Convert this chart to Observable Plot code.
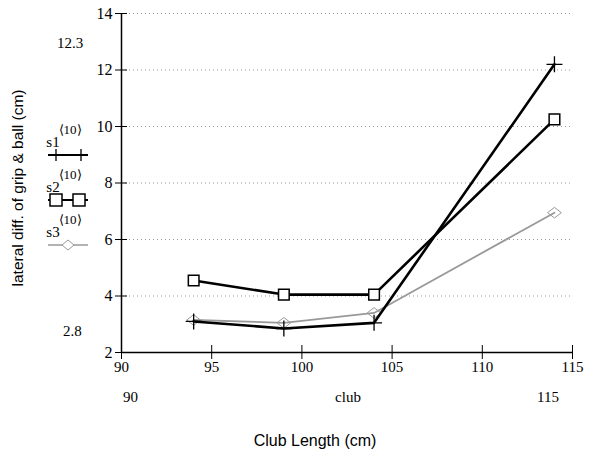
<!DOCTYPE html>
<html><head><meta charset="utf-8">
<script src="https://cdn.jsdelivr.net/npm/d3@7"></script>
<script src="https://cdn.jsdelivr.net/npm/@observablehq/plot@0.6"></script>
<style>
body{margin:0;background:#fff;}
#wrap{position:relative;width:589px;height:459px;}
</style>
</head><body><div id="wrap"></div>
<script>
const clubLength = [94, 99, 104, 114];
const s1 = [3.1, 2.85, 3.05, 12.2];
const s2 = [4.55, 4.05, 4.05, 10.25];
const s3 = [3.15, 3.05, 3.4, 6.95];
const seriesNames = ["s1", "s2", "s3"];
const xTicks = [90, 95, 100, 105, 110, 115];
const yTicks = [2, 4, 6, 8, 10, 12, 14];
const gridTicks = [4, 6, 8, 10, 12, 14];

const rows = [];
[s1, s2, s3].forEach((s, i) => s.forEach((v, j) => rows.push({series: seriesNames[i], x: clubLength[j], y: v})));

const plusSym = {draw(ctx, size){ const r = Math.sqrt(size)*0.9; ctx.moveTo(-r,0); ctx.lineTo(r,0); ctx.moveTo(0,-r); ctx.lineTo(0,r); }};
const diamondSym = {draw(ctx, size){ const r = Math.sqrt(size)*0.6; ctx.moveTo(0,-r); ctx.lineTo(r*1.3,0); ctx.lineTo(0,r); ctx.lineTo(-r*1.3,0); ctx.closePath(); }};
const squareSym = {draw(ctx, size){ const r = Math.sqrt(size)/2; ctx.rect(-r,-r,2*r,2*r); }};
const serif = "Liberation Serif";
const sans = "Liberation Sans";

const chart = Plot.plot({
  width: 589, height: 459,
  marginLeft: 121, marginRight: 17, marginTop: 13, marginBottom: 107,
  style: {fontFamily: serif, fontSize: "16px", background: "#fff", overflow: "visible"},
  x: {domain: [90, 115]},
  y: {domain: [2, 14]},
  marks: [
    Plot.ruleY(gridTicks, {stroke: "#999", strokeDasharray: "1,3", strokeWidth: 1}),
    Plot.ruleX([90], {stroke: "#000", strokeWidth: 1.5}),
    Plot.ruleY([2], {stroke: "#000", strokeWidth: 1.5}),
    Plot.axisY({ticks: yTicks, tickSize: 6, tickPadding: 3, tickFormat: d => d, label: null, fontSize: 16}),
    Plot.axisY({ticks: yTicks, tickSize: -6, text: null, label: null}),
    Plot.axisX({ticks: xTicks, tickSize: 7, tickPadding: 2, tickFormat: d => d, label: null, fontSize: 15}),
    Plot.axisX({ticks: xTicks, tickSize: -7, text: null, label: null}),
    Plot.line(rows.filter(d => d.series === "s3"), {x: "x", y: "y", stroke: "#999", strokeWidth: 1.8}),
    Plot.dot(rows.filter(d => d.series === "s3"), {x: "x", y: "y", symbol: diamondSym, r: 5, stroke: "#999", fill: "none", strokeWidth: 1}),
    Plot.line(rows.filter(d => d.series === "s1"), {x: "x", y: "y", stroke: "#000", strokeWidth: 2.6}),
    Plot.dot(rows.filter(d => d.series === "s1"), {x: "x", y: "y", symbol: plusSym, r: 5, stroke: "#000", fill: "none", strokeWidth: 1.3}),
    Plot.line(rows.filter(d => d.series === "s2"), {x: "x", y: "y", stroke: "#000", strokeWidth: 2.6}),
    Plot.dot(rows.filter(d => d.series === "s2"), {x: "x", y: "y", symbol: squareSym, r: 6, stroke: "#000", fill: "#fff", strokeWidth: 1.5})
  ]
});
const wrap = document.getElementById("wrap");
wrap.appendChild(chart);

const svg = d3.select(chart);
const leg = svg.append("g");
const legendItems = [
  {name: "s1", y: 155, stroke: "#000", w: 2.2, sym: "plus", at: [56, 81]},
  {name: "s2", y: 200, stroke: "#000", w: 2.2, sym: "square", at: [56, 79]},
  {name: "s3", y: 245, stroke: "#999", w: 1.5, sym: "diamond", at: [68]}
];
legendItems.forEach(it => {
  leg.append("text").style("font-family", serif).attr("x", 53).attr("y", it.y - 8).style("font-size", "15px").text(it.name);
  leg.append("text").style("font-family", serif).attr("x", 70).attr("y", it.y - 21).style("font-size", "13px").text("⟨10⟩");
  leg.append("line").attr("x1", 48).attr("x2", 88).attr("y1", it.y).attr("y2", it.y).attr("stroke", it.stroke).attr("stroke-width", it.w);
  it.at.forEach(cx => {
    if (it.sym === "plus") leg.append("path").attr("d", `M${cx-5},${it.y}h10M${cx},${it.y-6}v12`).attr("stroke", "#000").attr("stroke-width", 1.3);
    if (it.sym === "square") leg.append("rect").attr("x", cx-6).attr("y", it.y-6).attr("width", 12).attr("height", 12).attr("fill", "#fff").attr("stroke", "#000").attr("stroke-width", 1.5);
    if (it.sym === "diamond") leg.append("path").attr("d", `M${cx},${it.y-5}L${cx+6},${it.y}L${cx},${it.y+5}L${cx-6},${it.y}Z`).attr("fill", "#fff").attr("stroke", "#999");
  });
});
const notes = [
  {t: "12.3", x: 57, y: 48, a: "start"},
  {t: "2.8", x: 63, y: 336, a: "start"},
  {t: "90", x: 123, y: 402, a: "start"},
  {t: "club", x: 348, y: 402, a: "middle"},
  {t: "115", x: 548, y: 402, a: "middle"}
];
notes.forEach(n => svg.append("text").style("font-family", serif).style("font-size", "15px").attr("x", n.x).attr("y", n.y).attr("text-anchor", n.a).text(n.t));
svg.append("text").style("font-family", sans).style("font-size", "15.5px").attr("transform", "translate(23,188) rotate(-90)").attr("text-anchor", "middle").text("lateral diff. of grip & ball (cm)");
svg.append("text").style("font-family", sans).style("font-size", "16px").attr("x", 315).attr("y", 446).attr("text-anchor", "middle").text("Club Length (cm)");
</script>
</body></html>
